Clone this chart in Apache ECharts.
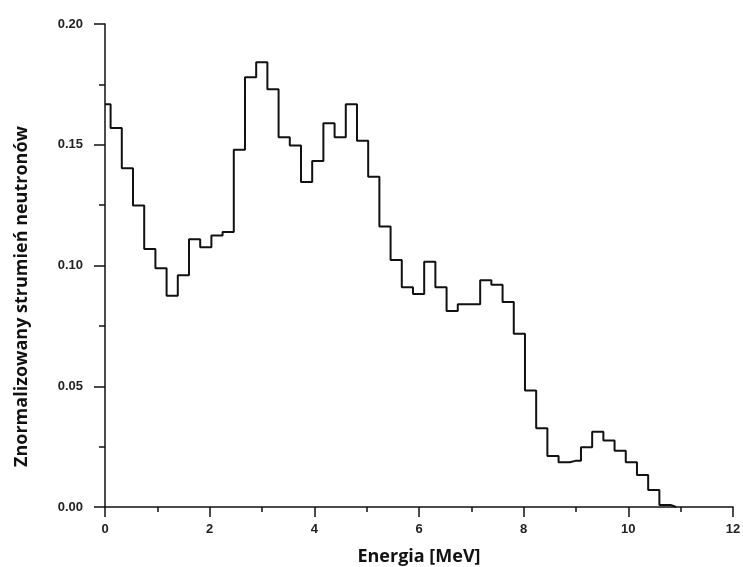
<!DOCTYPE html>
<html>
<head>
<meta charset="utf-8">
<script src="https://cdn.jsdelivr.net/npm/echarts@6/dist/echarts.min.js"></script>
<style>
  html, body { margin: 0; padding: 0; background: #fff; }
  #chart { width: 743px; height: 567px; }
</style>
</head>
<body>
<div id="chart"></div>
<script>
// szerokość kanału histogramu [MeV]
var binWidth = 0.214;

// znormalizowany strumień w kolejnych kanałach
var fluxValues = [
    0.1668, 0.1569, 0.1403, 0.1248, 0.1068, 0.0989, 0.0875, 0.0960, 0.1109, 0.1076,
    0.1124, 0.1139, 0.1479, 0.1780, 0.1842, 0.1730, 0.1531, 0.1497, 0.1346, 0.1433,
    0.1589, 0.1531, 0.1668, 0.1517, 0.1367, 0.1161, 0.1023, 0.0910, 0.0882, 0.1016,
    0.0910, 0.0812, 0.0840, 0.0840, 0.0939, 0.0920, 0.0849, 0.0717, 0.0482, 0.0326,
    0.0211, 0.0185, 0.0191, 0.0247, 0.0312, 0.0275, 0.0233, 0.0185, 0.0133, 0.0070,
    0.0008, 0
];

var xTicks = [0, 2, 4, 6, 8, 10, 12];
var yTicks = [0, 0.05, 0.10, 0.15, 0.20];

// środki kanałów
var points = fluxValues.map(function (v, i) {
    return [i * binWidth, v];
});

var labelStyle = {
    color: '#222',
    fontFamily: 'Liberation Sans',
    fontWeight: 'bold',
    fontSize: 13
};

var chart = echarts.init(document.getElementById('chart'));
var option = {
    backgroundColor: '#fff',
    animation: false,
    grid: {
        left: 105,
        right: 10,
        top: 24,
        bottom: 60,
        outerBoundsMode: 'none'
    },
    xAxis: {
        type: 'value',
        min: xTicks[0],
        max: xTicks[xTicks.length - 1],
        interval: 2,
        name: 'Energia [MeV]',
        nameLocation: 'middle',
        nameGap: 41,
        nameTextStyle: {
            color: '#111',
            fontFamily: 'Open Sans',
            fontWeight: 'bold',
            fontSize: 18
        },
        axisLine: { lineStyle: { color: '#111', width: 1.5 } },
        axisTick: { show: true, inside: false, length: 10, lineStyle: { color: '#111', width: 1.5 } },
        minorTick: { show: true, splitNumber: 2, length: 5, lineStyle: { color: '#111', width: 1.5 } },
        splitLine: { show: false },
        axisLabel: Object.assign({ margin: 16 }, labelStyle)
    },
    yAxis: {
        type: 'value',
        min: yTicks[0],
        max: yTicks[yTicks.length - 1],
        interval: 0.05,
        name: 'Znormalizowany strumień neutronów',
        nameLocation: 'middle',
        nameGap: 74,
        nameTextStyle: {
            color: '#111',
            fontFamily: 'Open Sans',
            fontWeight: 'bold',
            fontSize: 18,
            padding: [0, 62, 0, 0]
        },
        axisLine: { show: true, lineStyle: { color: '#111', width: 1.5 } },
        axisTick: { show: true, inside: false, length: 11, lineStyle: { color: '#111', width: 1.5 } },
        minorTick: { show: true, splitNumber: 2, length: 6, lineStyle: { color: '#111', width: 1.5 } },
        splitLine: { show: false },
        axisLabel: Object.assign({
            margin: 22,
            formatter: function (v) { return v.toFixed(2); }
        }, labelStyle)
    },
    series: [{
        type: 'line',
        step: 'middle',
        data: points,
        showSymbol: false,
        symbol: 'none',
        clip: true,
        lineStyle: { color: '#111', width: 2 }
    }]
};
chart.setOption(option);
</script>
</body>
</html>
